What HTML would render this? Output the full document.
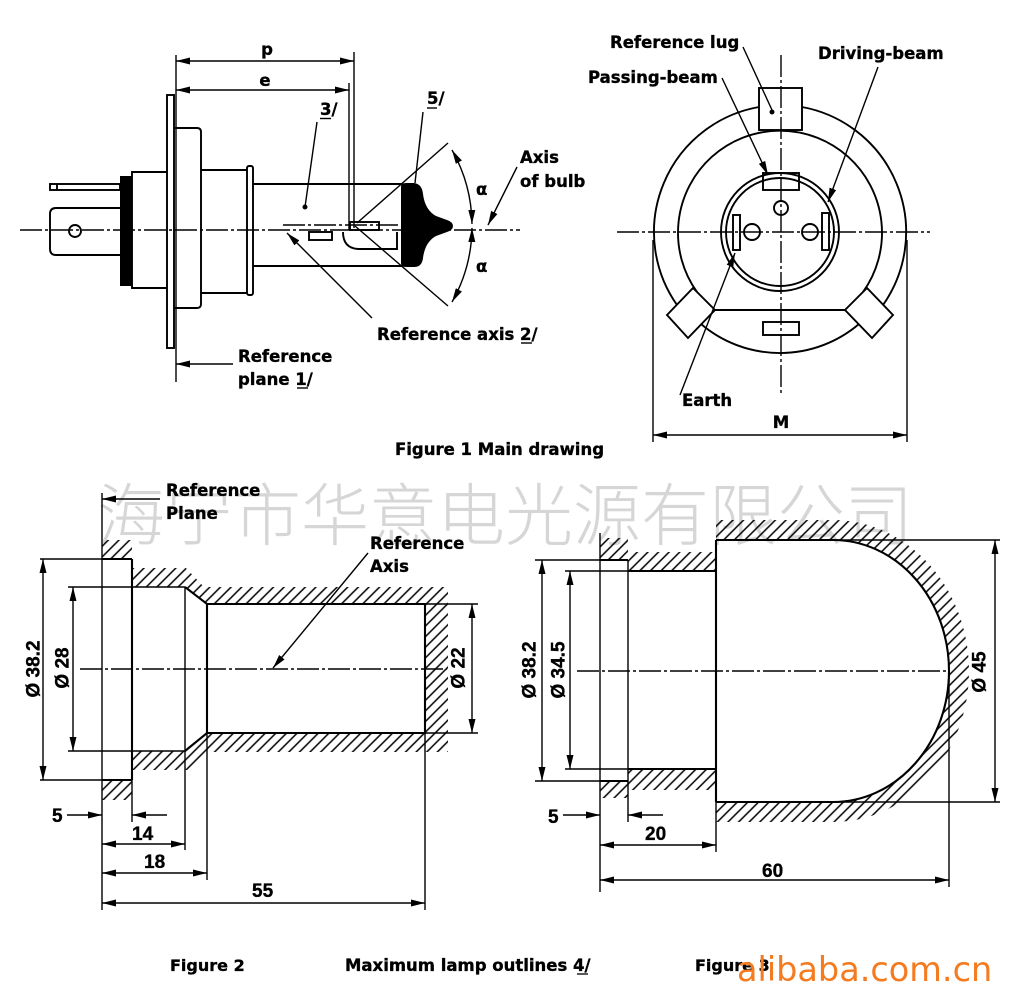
<!DOCTYPE html>
<html><head><meta charset="utf-8"><style>
html,body{margin:0;padding:0;background:#fff;}
svg{display:block}
.t{font-family:"DejaVu Sans","Liberation Sans",sans-serif;font-weight:bold;font-size:16.5px;fill:#000;stroke:#000;stroke-width:0.35px}
.d{font-family:"Liberation Sans","DejaVu Sans",sans-serif;font-weight:bold;font-size:19px;fill:#000;stroke:#000;stroke-width:0.35px}
.w{font-family:"Noto Sans CJK SC","WenQuanYi Zen Hei",sans-serif;font-weight:300;font-size:68px;fill:#d6d6d6}
.o{font-family:"DejaVu Sans","Liberation Sans",sans-serif;font-size:33.5px;fill:#f47b20}
</style></head><body>
<svg width="1024" height="1000" viewBox="0 0 1024 1000" xmlns="http://www.w3.org/2000/svg">
<defs>
<marker id="a" viewBox="0 0 14 7" refX="14" refY="3.5" markerWidth="14" markerHeight="7" markerUnits="userSpaceOnUse" orient="auto-start-reverse"><path d="M0,0L14,3.5L0,7z" fill="#000"/></marker>
<pattern id="h" width="7.5" height="10" patternUnits="userSpaceOnUse" patternTransform="rotate(45)"><line x1="1" y1="0" x2="1" y2="10" stroke="#000" stroke-width="1.5"/></pattern>
</defs>
<rect width="1024" height="1000" fill="#fff"/>

<!-- watermark -->
<text class="w" x="97" y="540">海宁市华意电光源有限公司</text>

<!-- ================= FIGURE 1 LEFT ================= -->
<g fill="none" stroke="#000" stroke-width="1.9">
  <rect x="167" y="95" width="7" height="253"/>
  <path d="M174,128 H197 Q201,128 201,132 V304 Q201,308 197,308 H174"/>
  <path d="M167,172 H132 V288 H167"/>
  <path d="M120,208 H56 Q50,208 50,214 V249 Q50,255 56,255 H120"/>
  <circle cx="75" cy="231" r="6"/>
  <rect x="50" y="184" width="70" height="6"/>
  <line x1="57" y1="184" x2="57" y2="190"/>
  <path d="M201,170 H247 M201,293 H247"/>
  <rect x="247" y="166" width="6" height="129" rx="2"/>
  <path d="M253,184 H403 M253,266 H403"/>
  <rect x="309" y="232" width="23" height="8"/>
  <path d="M343,232 Q343,248 358,249 H397 V232"/>
  <rect x="350" y="222" width="29" height="8"/>
</g>
<rect x="120" y="176" width="12" height="110" fill="#000"/>
<path d="M401,187 Q401,183 406,183 L414,183 Q422,184 423,194 Q425,210 436,216 L447,220 Q453,222 453,226 Q453,230 447,232 L436,236 Q425,242 423,258 Q422,267 414,267 L406,267 Q401,267 401,263 Z" fill="#000"/>

<g fill="none" stroke="#000" stroke-width="1.4">
  <line x1="176" y1="55" x2="176" y2="382"/>
  <line x1="354" y1="52" x2="354" y2="228"/>
  <line x1="349" y1="83" x2="349" y2="230"/>
  <line x1="176" y1="61" x2="354" y2="61" marker-start="url(#a)" marker-end="url(#a)"/>
  <line x1="176" y1="90" x2="349" y2="90" marker-start="url(#a)" marker-end="url(#a)"/>
  <line x1="233" y1="364" x2="176" y2="364" marker-end="url(#a)"/>
  <line x1="20" y1="230" x2="520" y2="230" stroke-dasharray="22,3,3,3"/>
  <line x1="283" y1="225" x2="400" y2="225" stroke-dasharray="22,3,3,3"/>
  <line x1="357" y1="223" x2="448" y2="143"/>
  <line x1="355" y1="226" x2="448" y2="306"/>
  <path d="M472,224 A154,154 0 0 0 452,150" marker-start="url(#a)" marker-end="url(#a)"/>
  <path d="M472,228 A154,154 0 0 1 452,302" marker-start="url(#a)" marker-end="url(#a)"/>
  <line x1="317" y1="122" x2="305" y2="207"/>
  <line x1="423" y1="112" x2="415" y2="183"/>
  <line x1="517" y1="167" x2="488" y2="225" marker-end="url(#a)"/>
  <line x1="372" y1="318" x2="287" y2="233" marker-end="url(#a)"/>
  <line x1="320" y1="118.5" x2="331" y2="118.5"/>
  <line x1="427" y1="108" x2="437" y2="108"/>
  <line x1="521" y1="343" x2="532" y2="343"/>
  <line x1="297" y1="388" x2="308" y2="388"/>
</g>
<circle cx="305" cy="207" r="2.5" fill="#000"/>

<text class="t" x="267" y="55" text-anchor="middle">p</text>
<text class="t" x="265" y="86" text-anchor="middle">e</text>
<text class="t" x="320" y="115">3/</text>
<text class="t" x="427" y="104">5/</text>
<text class="t" x="520" y="163">Axis</text>
<text class="t" x="520" y="187">of bulb</text>
<text class="t" x="476" y="195">α</text>
<text class="t" x="476" y="272">α</text>
<text class="t" x="377" y="340">Reference axis 2/</text>
<text class="t" x="238" y="362">Reference</text>
<text class="t" x="238" y="385">plane 1/</text>

<!-- ================= FIGURE 1 RIGHT ================= -->
<g fill="none" stroke="#000" stroke-width="1.9">
  <path d="M759,107 A127,127 0 0 0 677,305"/>
  <path d="M802,107 A127,127 0 0 1 883,305"/>
  <path d="M697,292 A102,102 0 1 1 863,292"/>
  <path d="M701,324 A122,122 0 0 0 859,324"/>
  <line x1="715" y1="310" x2="845" y2="310"/>
  <polygon points="667,315 688,338 715,310 693,288" fill="#fff"/>
  <polygon points="893,315 872,338 845,310 867,288" fill="#fff"/>
  <rect x="759" y="88" width="43" height="42" fill="#fff"/>
  <circle cx="780" cy="232" r="59"/>
  <circle cx="780" cy="232" r="54"/>
  <rect x="763" y="173" width="36" height="17"/>
  <circle cx="781" cy="208" r="7"/>
  <circle cx="752" cy="232" r="8"/>
  <circle cx="810" cy="232" r="8"/>
  <rect x="733" y="215" width="7" height="35"/>
  <rect x="822" y="213" width="7" height="37"/>
  <rect x="763" y="322" width="36" height="13"/>
</g>
<g fill="none" stroke="#000" stroke-width="1.4">
  <line x1="617" y1="232" x2="930" y2="232" stroke-dasharray="22,3,3,3"/>
  <line x1="781" y1="55" x2="781" y2="393" stroke-dasharray="22,3,3,3"/>
  <line x1="653" y1="240" x2="653" y2="442"/>
  <line x1="907" y1="240" x2="907" y2="442"/>
  <line x1="653" y1="435" x2="907" y2="435" marker-start="url(#a)" marker-end="url(#a)"/>
  <line x1="743" y1="47" x2="772" y2="110"/>
  <line x1="722" y1="78" x2="768" y2="175" marker-end="url(#a)"/>
  <line x1="878" y1="67" x2="828" y2="202" marker-end="url(#a)"/>
  <line x1="680" y1="395" x2="735" y2="253" marker-end="url(#a)"/>
</g>
<circle cx="772" cy="112" r="2.5" fill="#000"/>
<text class="t" x="610" y="48">Reference lug</text>
<text class="t" x="588" y="83">Passing-beam</text>
<text class="t" x="818" y="59">Driving-beam</text>
<text class="t" x="682" y="406">Earth</text>
<text class="t" x="781" y="428" text-anchor="middle">M</text>
<text class="t" x="395" y="455">Figure 1 Main drawing</text>

<!-- ================= FIGURE 2 ================= -->
<path fill="url(#h)" fill-rule="evenodd" d="M102,540 H132 V568 H186 L204,587 H448 V752 H207 L188,770 H132 V800 H102 Z M102,559 H132 V587 H185 L207,604 H425 V733 H207 L185,751 H132 V780 H102 Z"/>
<g fill="none" stroke="#000" stroke-width="2.1">
  <path d="M102,559 H132 M102,780 H132"/>
  <line x1="132" y1="559" x2="132" y2="780"/>
  <path d="M185,587 L207,604 H425 V733 H207 L185,751"/>
  <line x1="207" y1="604" x2="207" y2="733"/>
</g>
<g fill="none" stroke="#000" stroke-width="1.4">
  <path d="M132,587 H185 M132,751 H185"/>
  <line x1="102" y1="493" x2="102" y2="910"/>
  <line x1="185" y1="587" x2="185" y2="850"/>
  <line x1="132" y1="780" x2="132" y2="822"/>
  <line x1="207" y1="733" x2="207" y2="880"/>
  <line x1="425" y1="733" x2="425" y2="910"/>
  <line x1="80" y1="669" x2="447" y2="669" stroke-dasharray="22,3,3,3"/>
  <path d="M40,559 H102 M40,780 H102 M68,587 H132 M68,751 H132 M425,604 H478 M425,733 H478"/>
  <line x1="43" y1="559" x2="43" y2="780" marker-start="url(#a)" marker-end="url(#a)"/>
  <line x1="73" y1="587" x2="73" y2="751" marker-start="url(#a)" marker-end="url(#a)"/>
  <line x1="472" y1="604" x2="472" y2="733" marker-start="url(#a)" marker-end="url(#a)"/>
  <line x1="67" y1="815" x2="102" y2="815" marker-end="url(#a)"/>
  <line x1="167" y1="815" x2="132" y2="815" marker-end="url(#a)"/>
  <line x1="102" y1="844" x2="185" y2="844" marker-start="url(#a)" marker-end="url(#a)"/>
  <line x1="102" y1="873" x2="207" y2="873" marker-start="url(#a)" marker-end="url(#a)"/>
  <line x1="102" y1="903" x2="425" y2="903" marker-start="url(#a)" marker-end="url(#a)"/>
  <line x1="160" y1="499" x2="102" y2="499" marker-end="url(#a)"/>
  <line x1="368" y1="553" x2="273" y2="668" marker-end="url(#a)"/>
</g>
<text class="t" x="166" y="496">Reference</text>
<text class="t" x="166" y="519">Plane</text>
<text class="t" x="370" y="549">Reference</text>
<text class="t" x="370" y="572">Axis</text>
<text class="d" x="52" y="822">5</text>
<text class="d" x="132" y="840">14</text>
<text class="d" x="144" y="868">18</text>
<text class="d" x="252" y="897">55</text>
<text class="d" transform="translate(34,669) rotate(-90)" text-anchor="middle" dominant-baseline="central">Ø 38.2</text>
<text class="d" transform="translate(63,668) rotate(-90)" text-anchor="middle" dominant-baseline="central">Ø 28</text>
<text class="d" transform="translate(459,668) rotate(-90)" text-anchor="middle" dominant-baseline="central">Ø 22</text>

<!-- ================= FIGURE 3 ================= -->
<path fill="url(#h)" fill-rule="evenodd" d="M600,538 H628 V552 H716 V520 H833 A136,151 0 0 1 969,671 A136,151 0 0 1 833,822 H716 V790 H628 V798 H600 Z M600,560 H628 V571 H716 V540 H833 A116,131 0 0 1 949,671 A116,131 0 0 1 833,802 H716 V769 H628 V781 H600 Z"/>
<g fill="none" stroke="#000" stroke-width="2.1">
  <path d="M600,560 H628 M600,781 H628"/>
  <path d="M628,571 H716 M628,769 H716"/>
  <line x1="716" y1="540" x2="716" y2="802"/>
  <path d="M716,540 H833 A116,131 0 0 1 949,671 A116,131 0 0 1 833,802 H716"/>
</g>
<g fill="none" stroke="#000" stroke-width="1.4">
  <line x1="600" y1="533" x2="600" y2="892"/>
  <line x1="628" y1="560" x2="628" y2="822"/>
  <line x1="716" y1="802" x2="716" y2="852"/>
  <line x1="949" y1="671" x2="949" y2="887"/>
  <line x1="577" y1="671" x2="949" y2="671" stroke-dasharray="22,3,3,3"/>
  <path d="M833,540 H1000 M833,802 H1000 M535,560 H600 M535,781 H600 M565,571 H628 M565,769 H628"/>
  <line x1="995" y1="540" x2="995" y2="802" marker-start="url(#a)" marker-end="url(#a)"/>
  <line x1="542" y1="560" x2="542" y2="781" marker-start="url(#a)" marker-end="url(#a)"/>
  <line x1="570" y1="571" x2="570" y2="769" marker-start="url(#a)" marker-end="url(#a)"/>
  <line x1="563" y1="815" x2="600" y2="815" marker-end="url(#a)"/>
  <line x1="663" y1="815" x2="628" y2="815" marker-end="url(#a)"/>
  <line x1="600" y1="845" x2="716" y2="845" marker-start="url(#a)" marker-end="url(#a)"/>
  <line x1="600" y1="880" x2="949" y2="880" marker-start="url(#a)" marker-end="url(#a)"/>
</g>
<text class="d" x="548" y="823">5</text>
<text class="d" x="645" y="840">20</text>
<text class="d" x="762" y="877">60</text>
<text class="d" transform="translate(530,670) rotate(-90)" text-anchor="middle" dominant-baseline="central">Ø 38.2</text>
<text class="d" transform="translate(559,670) rotate(-90)" text-anchor="middle" dominant-baseline="central">Ø 34.5</text>
<text class="d" transform="translate(980,672) rotate(-90)" text-anchor="middle" dominant-baseline="central">Ø 45</text>

<!-- bottom captions -->
<text class="t" x="170" y="971" style="font-size:16px">Figure 2</text>
<text class="t" x="345" y="971">Maximum lamp outlines 4/</text>
<line x1="577" y1="974" x2="588" y2="974" stroke="#000" stroke-width="1.3"/>
<text class="t" x="695" y="971" style="font-size:16px">Figure 3</text>
<text class="o" x="737" y="981">alibaba.com.cn</text>
</svg>
</body></html>
